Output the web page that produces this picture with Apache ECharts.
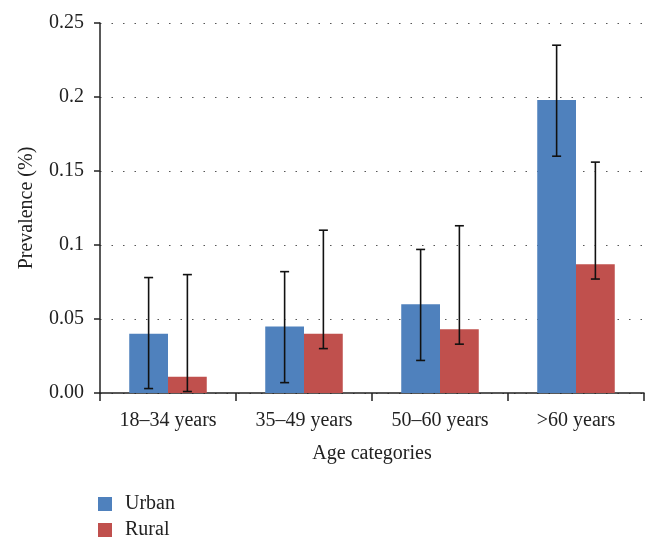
<!DOCTYPE html>
<html><head><meta charset="utf-8">
<script src="https://cdn.jsdelivr.net/npm/echarts@6/dist/echarts.min.js"></script>
<style>html,body{margin:0;padding:0;background:#fff}#c{width:658px;height:551px}</style>
</head><body><div id="c"></div>
<script>
const categories = ['18\u201334 years', '35\u201349 years', '50\u201360 years', '>60 years'];
const urban = [0.040, 0.045, 0.060, 0.198];
const rural = [0.011, 0.040, 0.043, 0.087];
const urbanLow = [0.003, 0.007, 0.022, 0.160];
const urbanHigh = [0.078, 0.082, 0.097, 0.235];
const ruralLow = [0.001, 0.030, 0.033, 0.077];
const ruralHigh = [0.080, 0.110, 0.113, 0.156];
const yTicks = ['0.00', '0.05', '0.1', '0.15', '0.2', '0.25'];

const FONT = 'Liberation Serif';
const FS = 20;
const GAP = 0.43;

function errSeries(name, low, high, sign) {
  return {
    type: 'custom', name: name + ' err', silent: true, z: 5,
    data: low.map((l, i) => [i, l, high[i]]),
    renderItem: function (params, api) {
      const cw = api.size([1, 0])[0];
      const off = sign * cw * (1 - GAP) / 4;
      const lo = api.coord([api.value(0), api.value(1)]);
      const hi = api.coord([api.value(0), api.value(2)]);
      const x = lo[0] + off, cap = 4.5;
      const st = { stroke: '#111', lineWidth: 1.6 };
      return { type: 'group', children: [
        { type: 'line', shape: { x1: x, y1: lo[1], x2: x, y2: hi[1] }, style: st },
        { type: 'line', shape: { x1: x - cap, y1: lo[1], x2: x + cap, y2: lo[1] }, style: st },
        { type: 'line', shape: { x1: x - cap, y1: hi[1], x2: x + cap, y2: hi[1] }, style: st }
      ]};
    }
  };
}

const chart = echarts.init(document.getElementById('c'));
chart.setOption({
  animation: false,
  textStyle: { fontFamily: FONT },
  grid: { left: 100, right: 14, top: 23, bottom: 158, containLabel: false },
  legend: {
    orient: 'vertical', left: 98, top: 494, height: 56, itemWidth: 14, itemHeight: 14, itemGap: 6,
    icon: 'rect', padding: 0,
    data: ['Urban', 'Rural'],
    textStyle: { fontFamily: FONT, fontSize: FS, lineHeight: 20, color: '#222', padding: [0, 0, 0, 8] }
  },
  xAxis: {
    type: 'category', data: categories,
    name: 'Age categories', nameLocation: 'middle', nameGap: 51,
    nameTextStyle: { fontFamily: FONT, fontSize: FS, color: '#222' },
    axisLine: { lineStyle: { color: '#222', width: 1.5 } },
    axisTick: { show: true, length: 8, lineStyle: { color: '#222', width: 1.5 } },
    axisLabel: { fontFamily: FONT, fontSize: FS, color: '#222', margin: 18 }
  },
  yAxis: {
    type: 'value', min: 0, max: 0.25, interval: 0.05,
    name: 'Prevalence (%)', nameLocation: 'middle', nameGap: 63,
    nameTextStyle: { fontFamily: FONT, fontSize: FS, color: '#222' },
    axisLine: { show: true, lineStyle: { color: '#222', width: 1.5 } },
    axisTick: { show: true, length: 6, lineStyle: { color: '#222', width: 1.5 } },
    axisLabel: { fontFamily: FONT, fontSize: FS, color: '#222', margin: 16,
      formatter: function (v) { return yTicks[Math.round(v / 0.05)]; } },
    splitLine: { show: true, lineStyle: { color: '#555', width: 1.2, type: [1.5, 10] } }
  },
  series: [
    { name: 'Urban', type: 'bar', data: urban, barGap: '0%', barCategoryGap: (GAP * 100) + '%',
      itemStyle: { color: '#4F81BD' } },
    { name: 'Rural', type: 'bar', data: rural, barGap: '0%', barCategoryGap: (GAP * 100) + '%',
      itemStyle: { color: '#C0504D' } },
    errSeries('Urban', urbanLow, urbanHigh, -1),
    errSeries('Rural', ruralLow, ruralHigh, 1)
  ]
});
</script></body></html>
